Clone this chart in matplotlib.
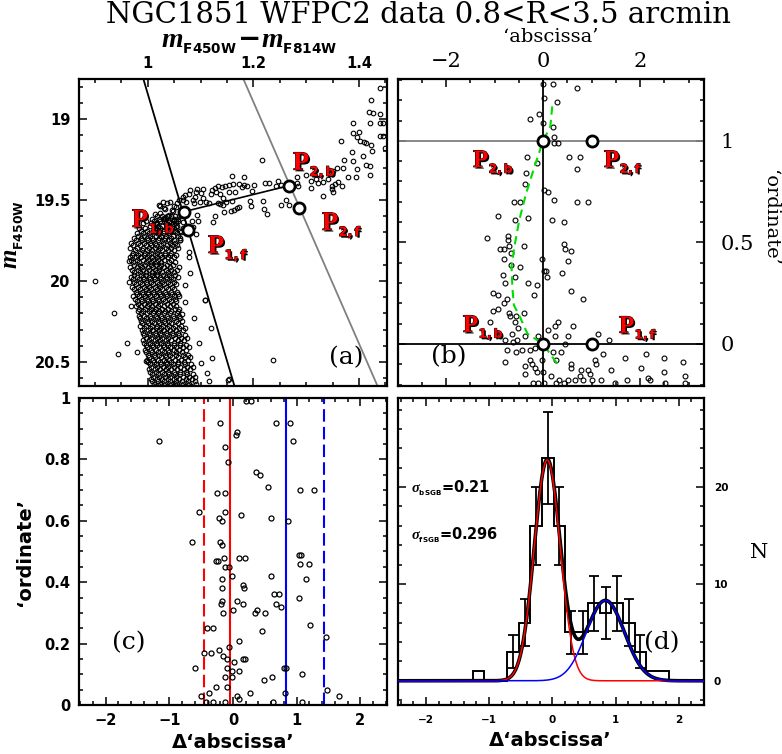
import numpy as np
import matplotlib
matplotlib.use('Agg')
import matplotlib.pyplot as plt
from matplotlib.ticker import MultipleLocator
import matplotlib.patheffects as pe

plt.rcParams['font.family'] = 'DejaVu Sans'
plt.rcParams['font.weight'] = 'bold'
plt.rcParams['mathtext.fontset'] = 'custom'
plt.rcParams['mathtext.it'] = 'Liberation Serif:italic'
plt.rcParams['mathtext.bf'] = 'DejaVu Sans:bold'
plt.rcParams['mathtext.sf'] = 'Liberation Serif:bold'
plt.rcParams['mathtext.rm'] = 'DejaVu Sans:bold'

# ---------------- panel (a): CMD ----------------
sgb_col = [1.439, 1.422, 1.419, 1.427, 1.440, 1.389, 1.420, 1.439, 1.446, 1.388, 1.400, 1.396,
           1.401, 1.410, 1.366, 1.423, 1.413, 1.446, 1.440, 1.387, 1.408, 1.424, 1.372, 1.388,
           1.413, 1.421, 1.358, 1.369, 1.350, 1.396, 1.380, 1.394, 1.420, 1.217, 1.283, 1.300,
           1.309, 1.318, 1.341, 1.323, 1.332, 1.348, 1.355, 1.360, 1.367, 1.348, 1.351, 1.309,
           1.332, 1.282, 1.285, 1.246, 1.252, 1.243, 1.230, 1.222, 1.201, 1.183, 1.188, 1.197,
           1.182, 1.159, 1.162, 1.154, 1.146, 1.140, 1.134, 1.127, 1.121, 1.119, 1.105, 1.100,
           1.092, 1.080, 1.089, 1.085, 1.105, 1.099, 1.110, 1.087, 1.073, 1.066, 1.056, 1.049,
           1.043, 1.137, 1.143, 1.133, 1.142, 1.159, 1.149, 1.169, 1.173, 1.163, 1.157, 1.145,
           1.137, 1.116, 1.193, 1.195, 1.219, 1.220, 1.225, 1.252, 1.262, 1.268, 1.127, 1.123,
           1.173, 1.178, 1.165, 1.154, 1.130, 1.094, 1.078, 1.067, 1.029, 1.023, 1.032, 1.047,
           1.039, 1.029, 1.040, 1.013, 1.016, 1.020, 1.054, 1.053, 1.067, 1.083, 1.094, 1.095,
           1.086, 1.073, 1.064, 1.091, 1.449, 1.021, 1.030, 1.037, 1.046, 1.053, 1.059, 1.071,
           1.024, 1.040, 1.049, 1.015, 1.030]
sgb_mag = [18.811, 18.881, 18.955, 18.965, 18.967, 19.027, 19.025, 19.025, 19.025, 19.086, 19.078, 19.113,
           19.134, 19.140, 19.136, 19.160, 19.148, 19.103, 19.107, 19.206, 19.226, 19.195, 19.253, 19.257,
           19.284, 19.288, 19.305, 19.305, 19.319, 19.309, 19.360, 19.356, 19.344, 19.253, 19.360, 19.344,
           19.381, 19.370, 19.370, 19.397, 19.391, 19.412, 19.401, 19.387, 19.412, 19.432, 19.449, 19.426,
           19.473, 19.395, 19.416, 19.381, 19.407, 19.416, 19.393, 19.395, 19.407, 19.405, 19.412, 19.447,
           19.360, 19.350, 19.401, 19.407, 19.412, 19.422, 19.416, 19.428, 19.438, 19.463, 19.432, 19.459,
           19.453, 19.438, 19.484, 19.500, 19.490, 19.514, 19.514, 19.519, 19.514, 19.498, 19.519, 19.535,
           19.510, 19.463, 19.490, 19.519, 19.531, 19.504, 19.514, 19.552, 19.545, 19.560, 19.568, 19.572,
           19.525, 19.519, 19.504, 19.535, 19.504, 19.556, 19.584, 19.531, 19.498, 19.531, 19.599, 19.638,
           19.401, 19.422, 19.453, 19.449, 19.453, 19.432, 19.463, 19.484, 19.514, 19.539, 19.556, 19.566,
           19.597, 19.617, 19.638, 19.587, 19.648, 19.669, 19.628, 19.669, 19.634, 19.628, 19.593, 19.628,
           19.669, 19.689, 19.700, 19.710, 19.180, 19.531, 19.551, 19.520, 19.561, 19.541, 19.500, 19.469,
           19.582, 19.592, 19.623, 19.644, 19.613]

out_col = [0.900, 0.964, 0.964, 0.969, 0.936, 0.960, 0.944, 0.980, 0.996, 1.062, 1.078, 1.078,
           1.081, 1.059, 1.071, 1.109, 1.071, 1.087, 1.065, 1.119, 1.097, 1.122, 1.100, 1.112,
           1.116, 1.154, 1.238, 1.152, 1.108]
out_mag = [19.998, 19.874, 20.004, 20.154, 20.199, 20.385, 20.452, 20.436, 20.494, 19.747, 19.819, 19.850,
           19.948, 19.911, 20.024, 20.117, 20.127, 20.230, 20.203, 20.292, 20.385, 20.477, 20.508, 20.570,
           20.615, 20.607, 20.488, 20.610, 20.117]

# main sequence, read row by row (two interleaved sets of rows)
ms_mag = [19.60, 19.63, 19.66, 19.69, 19.72, 19.75, 19.78, 19.81, 19.84, 19.87, 19.90, 19.93,
          19.96, 19.99, 20.02, 20.05, 20.08, 20.11, 20.14, 20.17, 20.20, 20.23, 20.26, 20.29,
          20.32, 20.35, 20.38, 20.41, 20.44, 20.47, 20.50, 20.53, 20.56, 20.59, 20.62, 20.65]
ms_cols = [
    [1.018, 1.027, 1.036, 1.045, 1.052, 1.060],
    [0.997, 1.012, 1.024, 1.031, 1.041, 1.049, 1.058],
    [1.005, 1.019, 1.028, 1.038, 1.046, 1.055],
    [0.988, 0.999, 1.010, 1.022, 1.030, 1.043, 1.052, 1.062],
    [0.982, 0.994, 1.004, 1.015, 1.026, 1.035, 1.048, 1.057],
    [0.978, 0.990, 1.001, 1.011, 1.020, 1.031, 1.040, 1.050, 1.061],
    [0.973, 0.986, 0.996, 1.007, 1.016, 1.025, 1.036, 1.046, 1.055],
    [0.976, 0.989, 0.999, 1.009, 1.019, 1.028, 1.038, 1.049],
    [0.971, 0.982, 0.993, 1.003, 1.013, 1.023, 1.033, 1.042, 1.053],
    [0.969, 0.979, 0.991, 1.000, 1.011, 1.020, 1.031, 1.045],
    [0.974, 0.985, 0.995, 1.006, 1.016, 1.026, 1.037, 1.048],
    [0.970, 0.981, 0.992, 1.002, 1.013, 1.022, 1.034, 1.044, 1.056],
    [0.975, 0.987, 0.997, 1.008, 1.018, 1.029, 1.040, 1.051],
    [0.972, 0.983, 0.994, 1.004, 1.014, 1.025, 1.036, 1.047],
    [0.977, 0.989, 0.999, 1.010, 1.021, 1.031, 1.043, 1.054],
    [0.974, 0.985, 0.996, 1.006, 1.017, 1.027, 1.038, 1.050],
    [0.979, 0.991, 1.001, 1.012, 1.023, 1.034, 1.046, 1.058],
    [0.976, 0.987, 0.998, 1.008, 1.019, 1.029, 1.041, 1.052],
    [0.981, 0.993, 1.003, 1.014, 1.024, 1.036, 1.048],
    [0.984, 0.995, 1.006, 1.016, 1.027, 1.039, 1.051, 1.060],
    [0.988, 0.999, 1.010, 1.020, 1.031, 1.043, 1.055],
    [0.985, 0.996, 1.007, 1.018, 1.028, 1.039, 1.050, 1.062],
    [0.990, 1.001, 1.012, 1.022, 1.033, 1.045, 1.057],
    [0.993, 1.004, 1.015, 1.025, 1.036, 1.048, 1.060, 1.070],
    [0.991, 1.002, 1.013, 1.023, 1.034, 1.046, 1.058],
    [0.996, 1.007, 1.018, 1.028, 1.039, 1.051, 1.063, 1.074],
    [0.994, 1.005, 1.016, 1.026, 1.037, 1.049, 1.061],
    [0.999, 1.010, 1.021, 1.031, 1.042, 1.054, 1.066, 1.078],
    [0.997, 1.008, 1.019, 1.030, 1.041, 1.053, 1.065],
    [1.003, 1.014, 1.025, 1.035, 1.046, 1.058, 1.070, 1.081],
    [1.001, 1.012, 1.023, 1.034, 1.045, 1.057, 1.069],
    [1.007, 1.018, 1.029, 1.039, 1.050, 1.062, 1.074, 1.085],
    [1.005, 1.016, 1.027, 1.038, 1.049, 1.061, 1.073],
    [1.011, 1.022, 1.033, 1.043, 1.054, 1.066, 1.078, 1.089],
    [1.009, 1.020, 1.031, 1.042, 1.053, 1.065, 1.077, 1.090],
    [1.014, 1.025, 1.036, 1.047, 1.058, 1.070, 1.082],
]
ms2_mag = [19.615, 19.645, 19.675, 19.705, 19.735, 19.765, 19.795, 19.825, 19.855, 19.885, 19.915,
           19.945, 19.975, 20.005, 20.035, 20.065, 20.095, 20.125, 20.155, 20.185, 20.215, 20.245,
           20.275, 20.305, 20.335, 20.365, 20.395, 20.425, 20.455, 20.485, 20.515, 20.545, 20.575,
           20.605, 20.635]
ms2_cols = [
    [1.008, 1.022, 1.033, 1.049, 1.057],
    [0.992, 1.006, 1.017, 1.035, 1.044, 1.053],
    [0.984, 0.995, 1.013, 1.024, 1.034, 1.050, 1.066],
    [0.979, 0.991, 1.003, 1.018, 1.029, 1.039, 1.055],
    [0.975, 0.987, 0.998, 1.009, 1.021, 1.033, 1.044, 1.062],
    [0.969, 0.982, 0.993, 1.004, 1.013, 1.029, 1.042, 1.051],
    [0.966, 0.980, 0.992, 1.003, 1.014, 1.024, 1.034, 1.045, 1.058],
    [0.973, 0.985, 0.995, 1.006, 1.017, 1.032, 1.044],
    [0.966, 0.977, 0.988, 0.998, 1.008, 1.018, 1.028, 1.038, 1.049],
    [0.972, 0.983, 0.996, 1.006, 1.015, 1.026, 1.041, 1.052],
    [0.966, 0.979, 0.990, 1.001, 1.011, 1.021, 1.031, 1.043],
    [0.975, 0.986, 0.997, 1.008, 1.018, 1.027, 1.039, 1.049],
    [0.969, 0.980, 0.991, 1.002, 1.012, 1.023, 1.034, 1.045, 1.057],
    [0.974, 0.986, 0.996, 1.007, 1.017, 1.027, 1.038, 1.050],
    [0.971, 0.982, 0.993, 1.003, 1.013, 1.024, 1.035, 1.046],
    [0.978, 0.990, 1.001, 1.011, 1.022, 1.033, 1.044, 1.055],
    [0.973, 0.984, 0.995, 1.005, 1.016, 1.026, 1.037, 1.049, 1.060],
    [0.979, 0.990, 1.001, 1.011, 1.022, 1.032, 1.044, 1.054],
    [0.977, 0.988, 0.999, 1.009, 1.020, 1.031, 1.042, 1.054],
    [0.981, 0.992, 1.002, 1.012, 1.022, 1.033, 1.045, 1.057],
    [0.983, 0.994, 1.004, 1.015, 1.025, 1.036, 1.048, 1.060],
    [0.988, 0.999, 1.009, 1.020, 1.030, 1.041, 1.053, 1.065],
    [0.986, 0.997, 1.008, 1.018, 1.029, 1.040, 1.052, 1.064],
    [0.989, 1.000, 1.010, 1.021, 1.031, 1.042, 1.054, 1.066],
    [0.994, 1.005, 1.015, 1.026, 1.037, 1.048, 1.060, 1.071],
    [0.992, 1.003, 1.013, 1.024, 1.034, 1.045, 1.057, 1.069],
    [0.997, 1.008, 1.018, 1.029, 1.039, 1.050, 1.062, 1.073],
    [0.995, 1.006, 1.016, 1.027, 1.038, 1.049, 1.060, 1.072],
    [1.001, 1.012, 1.022, 1.033, 1.043, 1.054, 1.066, 1.077],
    [0.999, 1.010, 1.020, 1.031, 1.041, 1.052, 1.064, 1.076],
    [1.005, 1.016, 1.026, 1.037, 1.047, 1.058, 1.070, 1.082],
    [1.003, 1.014, 1.024, 1.035, 1.045, 1.056, 1.068, 1.080],
    [1.009, 1.020, 1.030, 1.041, 1.051, 1.062, 1.074, 1.086],
    [1.007, 1.018, 1.028, 1.039, 1.049, 1.060, 1.072, 1.084],
    [1.012, 1.023, 1.033, 1.044, 1.055, 1.067, 1.079, 1.092],
]

p_col = [1.069, 1.077, 1.267, 1.286]
p_mag = [19.572, 19.685, 19.412, 19.549]
blackline_col = [0.987, 1.169]
blackline_mag = [18.70, 20.70]
greyline_col = [1.174, 1.442]
greyline_mag = [18.70, 20.70]

# ---------------- panel (b): rectified plane ----------------
b_x = [0.0, 0.21, 0.70, 0.01, 0.28, -0.08, -0.27, 0.0, 0.20, 0.23, 0.30, 0.23, -0.34, -0.13,
       0.54, 0.76, 0.71, -0.36, -0.37, 0.03, 0.11, 0.22, -0.60, -0.47, 0.71, 0.93, -0.93, -0.58,
       -0.30, 0.19, 0.43, -1.16, -0.73, -0.73, -0.88, -0.81, -0.70, -0.40, -0.66, -0.81, -0.03,
       0.44, 0.46, 0.58, -0.67, -0.47, 0.51, 0.01, 0.07, 0.39, -0.82, -0.57, -0.78, -0.30, -0.12,
       0.08, 0.58, -1.04, -0.93, -0.18, -0.75, 0.82, -0.81, -0.92, -1.04, -0.71, -0.68, -0.56,
       -0.40, -0.58, -1.09, -0.52, 0.30, 0.24, 0.61, 0.10,
       -0.65, -0.78, -0.54, -0.61, -0.38, -0.10, 0.24, 0.52, 1.13, 1.37, -0.74, -0.55, -0.43,
       -0.26, -0.17, 0.45, 0.38, 1.24, 0.21, -0.78, -0.27, -0.22, -0.38, -0.16, -0.03, 0.27,
       0.58, 1.07, 1.10, 1.70, 2.13, 2.49, 2.89, -0.38, -0.12, 0.0, -0.21, 0.17, 0.32, 0.58,
       0.78, 0.93, 0.76, 0.96, 0.82, 1.41, 1.73, 2.03, 2.16, 2.49, 2.92, 0.52, 1.00, 1.20,
       1.48, 2.20, 2.51, 2.93, 0.27, 0.03, -0.10, 0.43, 0.65]
b_y = [1.28, 1.28, 1.26, 1.21, 1.19, 1.13, 1.11, 1.09, 1.07, 1.02, 0.99, 0.99, 0.92, 0.89,
       0.92, 0.92, 0.86, 0.84, 0.79, 0.76, 0.75, 0.71, 0.70, 0.70, 0.70, 0.70, 0.63, 0.61,
       0.62, 0.61, 0.60, 0.52, 0.53, 0.51, 0.47, 0.47, 0.48, 0.48, 0.45, 0.42, 0.42,
       0.49, 0.47, 0.46, 0.39, 0.38, 0.41, 0.36, 0.36, 0.35, 0.34, 0.33, 0.30, 0.30, 0.29,
       0.33, 0.26, 0.25, 0.24, 0.24, 0.22, 0.22, 0.20, 0.17, 0.16, 0.15, 0.14, 0.14,
       0.15, 0.11, 0.11, 0.08, 0.11, 0.09, 0.09, 0.07,
       0.05, 0.02, 0.02, 0.01, 0.04, 0.04, 0.04, 0.04, 0.05, 0.02, -0.03, -0.04, -0.03,
       -0.03, -0.02, 0.00, -0.04, -0.05, -0.04, -0.09, -0.08, -0.10, -0.11, -0.12, -0.08, -0.08,
       -0.10, -0.08, -0.10, -0.07, -0.05, -0.07, -0.09, -0.15, -0.14, -0.14, -0.19, -0.16, -0.18, -0.12,
       -0.13, -0.13, -0.16, -0.15, -0.18, -0.13, -0.18, -0.12, -0.17, -0.14, -0.16, -0.18, -0.18, -0.18,
       -0.19, -0.18, -0.19, -0.19, -0.19, -0.19, -0.19, -0.19, -0.18]

fid_x = [0.19, 0.15, 0.0, -0.18, -0.35, -0.49, -0.59, -0.65, -0.63, -0.60, -0.49, -0.32, 0.0, 0.30]
fid_y = [1.17, 1.07, 1.0, 0.87, 0.74, 0.61, 0.48, 0.38, 0.27, 0.19, 0.14, 0.05, 0.0, -0.10]
pb_x = [0, 1, 0, 1]
pb_y = [0, 0, 1, 1]

# ---------------- panel (c): delta colour vs ordinate ----------------
c_x = [0.20, 0.29, -1.17, -0.21, 0.06, 0.04, 0.67, 0.90, 0.95, -0.12, -0.08, 0.36, 0.43, 0.55,
       1.06, 1.28, -0.25, -0.12, -0.53, -0.12, -0.22, -0.18, 0.12, 0.60, 0.87, -0.64, -0.21,
       -0.17, -0.27, -0.23, -0.14, 0.10, 0.19, 1.03, 1.07, 1.05, 1.19, -0.07, -0.12, -0.01,
       -0.17, -0.18, 0.16, 0.17, 0.60, 1.15, 0.65, 0.72, 1.03, -0.17, -0.19, 0.06, 0.15, 0.00,
       0.37, 0.35, 0.51, 0.68, 0.75, -0.15, -0.41, -0.31, 1.21, 0.45, 1.46, -0.46, -0.34, -0.22,
       -0.15, -0.10, -0.06, 0.02, 0.09, 0.15, 0.19, -0.59, -0.10, -0.01, 0.09, -0.13, -0.01,
       0.80, 0.83, 1.08, -0.50, -0.38, -0.26, -0.10, 0.26, 0.49, 0.62, 0.81, 1.48, 1.66, 0.06,
       0.09, -0.42, -0.32, -0.13, 0.63, 1.08]
c_y = [0.99, 0.99, 0.86, 0.92, 0.89, 0.88, 0.92, 0.92, 0.86, 0.84, 0.79, 0.76, 0.75, 0.71,
       0.70, 0.70, 0.69, 0.69, 0.63, 0.63, 0.61, 0.60, 0.62, 0.61, 0.60, 0.53, 0.53,
       0.52, 0.47, 0.47, 0.48, 0.48, 0.48, 0.49, 0.49, 0.46, 0.46, 0.45, 0.45, 0.42,
       0.41, 0.38, 0.39, 0.38, 0.42, 0.41, 0.36, 0.36, 0.35, 0.34, 0.33, 0.34, 0.33, 0.31,
       0.31, 0.30, 0.30, 0.33, 0.32, 0.30, 0.25, 0.25, 0.26, 0.24, 0.22, 0.17, 0.17, 0.18,
       0.16, 0.15, 0.19, 0.14, 0.21, 0.15, 0.15, 0.12, 0.12, 0.11, 0.11, 0.09, 0.09,
       0.12, 0.12, 0.10, 0.03, 0.04, 0.06, 0.06, 0.04, 0.08, 0.09, 0.04, 0.05, 0.03, 0.03,
       0.02, 0.01, 0.01, 0.01, 0.01, 0.01]
c_lines = [-0.46, -0.05, 0.84, 1.43]
c_line_colors = ['red', 'red', 'blue', 'blue']
c_line_dashed = [True, False, False, True]

# ---------------- panel (d): histogram + gaussian fits ----------------
bin_edges = [-1.26, -1.077, -0.894, -0.711, -0.528, -0.345, -0.162, 0.021, 0.204, 0.387,
             0.570, 0.753, 0.936, 1.119, 1.302, 1.485, 1.668, 1.851]
counts = [1, 0, 0, 3, 6, 16, 23, 16, 5, 5, 8, 7, 8, 6, 3, 1, 1]
fit_b = (22.8, -0.08, 0.205)   # amplitude, centre, sigma
fit_f = (8.3, 0.84, 0.30)

fig = plt.figure(figsize=(7.82, 7.54), dpi=100)

def style(ax):
    ax.tick_params(which='both', direction='in', top=True, right=True, bottom=True, left=True, width=1.1)
    ax.tick_params(which='major', length=6)
    ax.tick_params(which='minor', length=3.2)
    for s in ax.spines.values():
        s.set_linewidth(1.6)

circ = dict(ls='none', marker='o', mfc='none', mec='k')
plabel_fx = [pe.SimplePatchShadow(offset=(1.2, -1.2), shadow_rgbFace='k', alpha=1.0),
             pe.Stroke(linewidth=0.7, foreground='k'), pe.Normal()]

# panel a
ax = fig.add_axes([0.1010, 0.4881, 0.3939, 0.4072])
ax.plot(blackline_col, blackline_mag, color='k', lw=1.3)
ax.plot(greyline_col, greyline_mag, color='grey', lw=1.3)
ax.plot(sgb_col, sgb_mag, ms=3.3, mew=0.8, **circ)
ax.plot(out_col, out_mag, ms=3.3, mew=0.8, **circ)
for m, cols in zip(ms_mag, ms_cols):
    ax.plot(cols, [m] * len(cols), ms=3.3, mew=0.8, **circ)
for m, cols in zip(ms2_mag, ms2_cols):
    ax.plot(cols, [m] * len(cols), ms=3.3, mew=0.8, **circ)
ax.plot([p_col[0], p_col[2]], [p_mag[0], p_mag[2]], color='k', lw=1.2)
ax.plot(p_col, p_mag, ms=8, mew=2, mfc='white', mec='k', ls='none', marker='o', zorder=5)
ax.set_xlim(0.87, 1.453)
ax.set_ylim(20.648, 18.753)
ax.set_xticks([1.0, 1.2, 1.4], labels=['1', '1.2', '1.4'], fontsize=10.5)
ax.set_yticks([19, 19.5, 20, 20.5], labels=['19', '19.5', '20', '20.5'], fontsize=10.5)
ax.xaxis.set_minor_locator(MultipleLocator(0.05))
ax.yaxis.set_minor_locator(MultipleLocator(0.1))
style(ax)
ax.tick_params(labeltop=True, labelbottom=False, pad=6)
for lab, fx, fy in [(r'$\mathsf{P}_{_{\mathbf{2,b}}}$', 0.695, 0.704),
                    (r'$\mathsf{P}_{_{\mathbf{2,f}}}$', 0.789, 0.508),
                    (r'$\mathsf{P}_{_{\mathbf{1,b}}}$', 0.172, 0.518),
                    (r'$\mathsf{P}_{_{\mathbf{1,f}}}$', 0.419, 0.433)]:
    ax.text(fx, fy, lab, transform=ax.transAxes, color='red', fontsize=19,
            va='baseline', ha='left', path_effects=plabel_fx, zorder=6)
ax.text(0.867, 0.091, '(a)', transform=ax.transAxes, fontsize=18, family='DejaVu Serif',
        fontweight='normal', ha='center', va='center')

# panel b
ax = fig.add_axes([0.5090, 0.4881, 0.3913, 0.4072])
ax.axhline(1, color='grey', lw=1.3)
ax.axhline(0, color='k', lw=1.3)
ax.axvline(0, color='k', lw=1.3)
ax.plot(b_x, b_y, ms=3.5, mew=0.8, **circ)
ax.plot(fid_x, fid_y, color='#00dd00', lw=1.5, dashes=(4, 2.5))
ax.plot(pb_x, pb_y, ms=8, mew=2, mfc='white', mec='k', ls='none', marker='o', zorder=5)
ax.set_xlim(-2.99, 3.32)
ax.set_ylim(-0.207, 1.305)
serif_tick = dict(fontsize=15, family='DejaVu Serif', fontweight='normal')
ax.set_xticks([-2, 0, 2], labels=['\u22122', '0', '2'], **serif_tick)
ax.set_yticks([0, 0.5, 1], labels=['0', '0.5', '1'], **serif_tick)
ax.xaxis.set_minor_locator(MultipleLocator(0.5))
ax.yaxis.set_minor_locator(MultipleLocator(0.1))
style(ax)
ax.tick_params(labeltop=True, labelbottom=False, labelright=True, labelleft=False)
ax.tick_params(axis='x', pad=6)
ax.tick_params(axis='y', pad=12)
for lab, fx, fy in [(r'$\mathsf{P}_{_{\mathbf{2,b}}}$', 0.245, 0.713),
                    (r'$\mathsf{P}_{_{\mathbf{2,f}}}$', 0.673, 0.713),
                    (r'$\mathsf{P}_{_{\mathbf{1,b}}}$', 0.212, 0.176),
                    (r'$\mathsf{P}_{_{\mathbf{1,f}}}$', 0.722, 0.173)]:
    ax.text(fx, fy, lab, transform=ax.transAxes, color='red', fontsize=18,
            va='baseline', ha='left', path_effects=plabel_fx, zorder=6)
ax.text(0.167, 0.094, '(b)', transform=ax.transAxes, fontsize=18, family='DejaVu Serif',
        fontweight='normal', ha='center', va='center')

# panel c
ax = fig.add_axes([0.1010, 0.0650, 0.3939, 0.4072])
for xv, colr, dsh in zip(c_lines, c_line_colors, c_line_dashed):
    if dsh:
        ax.axvline(xv, color=colr, lw=1.5, dashes=(6, 2.5))
    else:
        ax.axvline(xv, color=colr, lw=1.5)
ax.plot(c_x, c_y, ms=3.6, mew=0.9, **circ)
ax.set_xlim(-2.42, 2.42)
ax.set_ylim(0, 1)
ax.set_xticks([-2, -1, 0, 1, 2], labels=['\u22122', '\u22121', '0', '1', '2'], fontsize=10.5)
ax.set_yticks([0, 0.2, 0.4, 0.6, 0.8, 1.0], labels=['0', '0.2', '0.4', '0.6', '0.8', '1'], fontsize=10.5)
ax.xaxis.set_minor_locator(MultipleLocator(0.2))
ax.yaxis.set_minor_locator(MultipleLocator(0.05))
style(ax)
ax.tick_params(pad=6)
ax.text(0.162, 0.202, '(c)', transform=ax.transAxes, fontsize=18, family='DejaVu Serif',
        fontweight='normal', ha='center', va='center')

# panel d
ax = fig.add_axes([0.5090, 0.0650, 0.3913, 0.4072])
edges = np.array(bin_edges)
cnt = np.array(counts)
centres = 0.5 * (edges[:-1] + edges[1:])
ax.stairs(cnt, edges, baseline=0, color='k', lw=1.4, zorder=2)
has_err = cnt > 1
ax.errorbar(centres[has_err], cnt[has_err], yerr=np.sqrt(cnt[has_err]), fmt='none',
            ecolor='k', elinewidth=1.3, capsize=3.5, capthick=1.3, zorder=3)
xx = np.linspace(-2.44, 2.40, 600)
g_b = fit_b[0] * np.exp(-0.5 * ((xx - fit_b[1]) / fit_b[2]) ** 2)
g_f = fit_f[0] * np.exp(-0.5 * ((xx - fit_f[1]) / fit_f[2]) ** 2)
ax.plot(xx, g_b + g_f, color='k', lw=2.6, zorder=4)
ax.plot(xx, g_b, color='red', lw=1.1, zorder=5)
ax.plot(xx, g_f, color='blue', lw=1.1, zorder=5)
ax.set_xlim(-2.44, 2.40)
ax.set_ylim(-2.5, 29.2)
ax.set_xticks([-2, -1, 0, 1, 2], labels=['\u22122', '\u22121', '0', '1', '2'], fontsize=7.5)
ax.set_yticks([0, 10, 20], labels=['0', '10', '20'], fontsize=7.5)
ax.xaxis.set_minor_locator(MultipleLocator(0.2))
ax.yaxis.set_minor_locator(MultipleLocator(2))
style(ax)
ax.tick_params(labelright=True, labelleft=False, pad=7)
ax.text(0.042, 0.707, r'$\sigma_{_{\mathbf{bSGB}}}$=0.21', transform=ax.transAxes,
        fontsize=10.5, ha='left', va='center')
ax.text(0.042, 0.554, r'$\sigma_{_{\mathbf{fSGB}}}$=0.296', transform=ax.transAxes,
        fontsize=10.5, ha='left', va='center')
ax.text(0.863, 0.202, '(d)', transform=ax.transAxes, fontsize=18, family='DejaVu Serif',
        fontweight='normal', ha='center', va='center')

# figure-level labels (pixel positions / figure size)
W, H = 782.0, 754.0
fig.text(418 / W, 1 - 15 / H, 'NGC1851 WFPC2 data 0.8<R<3.5 arcmin', family='DejaVu Serif',
         fontweight='normal', fontsize=21, ha='center', va='center')
fig.text(249 / W, 1 - 42 / H, r'$m_{_{\mathbf{F450W}}}\!-\!m_{_{\mathbf{F814W}}}$',
         fontsize=20, ha='center', va='center')
fig.text(14 / W, 1 - 235 / H, r'$m_{_{\mathbf{F450W}}}$', fontsize=18, rotation=90,
         ha='center', va='center')
fig.text(551 / W, 1 - 37 / H, '\u2018abscissa\u2019', family='DejaVu Serif', fontweight='normal',
         fontsize=14, ha='center', va='center')
fig.text(770 / W, 1 - 218 / H, '\u2018ordinate\u2019', family='DejaVu Serif', fontweight='normal',
         fontsize=14, rotation=270, ha='center', va='center')
fig.text(25 / W, 1 - 552 / H, '\u2018ordinate\u2019', fontsize=14, rotation=90,
         ha='center', va='center')
fig.text(233 / W, 1 - 743 / H, '\u0394\u2018abscissa\u2019', fontsize=14, ha='center', va='center')
fig.text(550 / W, 1 - 741 / H, '\u0394\u2018abscissa\u2019', fontsize=14, ha='center', va='center')
fig.text(759 / W, 1 - 552 / H, 'N', family='DejaVu Serif', fontweight='normal', fontsize=15,
         ha='center', va='center')

fig.savefig('out.png', dpi=100)
